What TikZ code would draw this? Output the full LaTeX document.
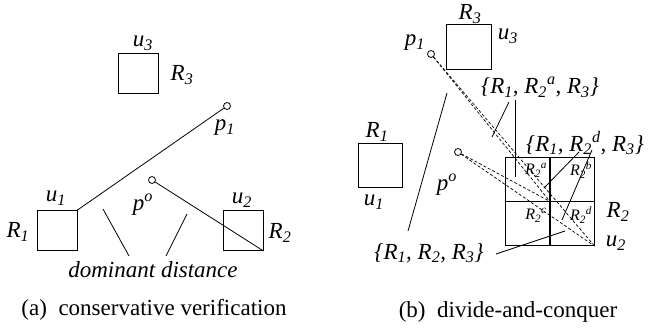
\documentclass[tikz,border=0pt]{standalone}
\usepackage{fontspec}
\setmainfont{Liberation Serif}
\usetikzlibrary{positioning}

\newcommand{\vR}[1]{\textit{R}\textsubscript{\textit{#1}}}
\newcommand{\vu}[1]{\textit{u}\textsubscript{\textit{#1}}}

\begin{document}
\begin{tikzpicture}[
    x=1pt, y=-1pt,
    font=\fontsize{23}{27}\selectfont\itshape,
    box/.style={
        rectangle, draw=black, line width=0.9pt,
        minimum size=40pt, inner sep=0pt
    },
    pt/.style={
        circle, draw=black, line width=0.8pt,
        minimum size=7pt, inner sep=0pt
    },
    lbl/.style={inner sep=1pt},
    sublbl/.style={inner sep=0pt, font=\fontsize{16}{18}\selectfont\itshape},
    line/.style={draw=black, line width=0.8pt},
    dline/.style={draw=black, line width=0.7pt, dash pattern=on 3pt off 2pt}
]
\useasboundingbox (0,0) rectangle (648,328);

% ---------------------------------------------------------------------
% (a) CONSERVATIVE VERIFICATION
% ---------------------------------------------------------------------
\node[box] (aR3) at (138,73) {};
\node[lbl] (au3) at (143,43) {\vu{3}};
\node[lbl] (aR3l) at (182,75) {\vR{3}};

\node[box] (aR1) at (57,230.5) {};
\node[lbl] (au1) at (56,198) {\vu{1}};
\node[lbl] (aR1l) at (18,232) {\vR{1}};

\node[box] (aR2) at (243,230.5) {};
\node[lbl] (au2) at (242,200) {\vu{2}};
\node[lbl] (aR2l) at (280,233) {\vR{2}};

\node[pt] (ap1) at (227,106) {};
\node[lbl] (ap1l) at (225,128) {p\textsubscript{1}};
\node[pt] (apo) at (152,180) {};
\node[lbl] (apol) at (143,205) {p\textsuperscript{o}};

\draw[line] (ap1) -- (aR1.north east);
\draw[line] (apo) -- (aR2.south east);

% dominant distance pointers
\node[lbl] (dd) at (153,270) {dominant distance};
\coordinate (dd1) at (103,209);
\coordinate (dd2) at (187,214);
\draw[line] (dd1) -- (129,256);
\draw[line] (dd2) -- (166,256);

\node[font=\fontsize{23}{27}\selectfont\upshape] (capa) at (154,310) {(a)~ conservative verification};

% ---------------------------------------------------------------------
% (b) DIVIDE-AND-CONQUER
% ---------------------------------------------------------------------
\node[box, minimum size=45pt] (bR3) at (469,46.5) {};
\node[lbl] (bR3l) at (470,14) {\vR{3}};
\node[lbl] (bu3) at (508,36) {\vu{3}};

\node[box, minimum size=44pt] (bR1) at (380,165) {};
\node[lbl] (bR1l) at (377,132) {\vR{1}};
\node[lbl] (bu1) at (374,202) {\vu{1}};

\node[pt] (bp1) at (431,54) {};
\node[lbl] (bp1l) at (415,43) {p\textsubscript{1}};
\node[pt] (bpo) at (458,152) {};
\node[lbl] (bpol) at (447,185) {p\textsuperscript{o}};

% R2 split into four quadrants
\node[box, minimum size=88.5pt] (G) at (550,201.5) {};
\draw[line, line width=1.3pt] (G.north) -- (G.south);
\draw[line, line width=1.3pt] (G.west) -- (G.east);
\node[sublbl] (Ga) at (536,170) {R\textsubscript{2}\textsuperscript{a}};
\node[sublbl] (Gb) at (581,170) {R\textsubscript{2}\textsuperscript{b}};
\node[sublbl] (Gc) at (536,215) {R\textsubscript{2}\textsuperscript{c}};
\node[sublbl] (Gd) at (581,215) {R\textsubscript{2}\textsuperscript{d}};
\node[lbl] (bR2l) at (618,212) {\vR{2}};
\node[lbl] (bu2) at (616,243) {\vu{2}};

% dashed distances
\draw[dline] (bp1) -- (G.center);
\draw[dline] (bp1) -- (G.south east);
\draw[dline] (bpo) -- (G.center);
\draw[dline] (bpo) -- (G.south east);

% set labels and pointers
\node[lbl] (Sa) at (540,87) {\{\vR{1}, \vR{2}\textsuperscript{a}, \vR{3}\}};
\node[lbl] (Sd) at (585,143) {\{\vR{1}, \vR{2}\textsuperscript{d}, \vR{3}\}};
\node[lbl] (S) at (429,253) {\{\vR{1}, \vR{2}, \vR{3}\}};

\coordinate (Sa1) at (515,100);
\coordinate (Sa2) at (509,102);
\draw[line] (Sa1) -- (515,177);
\draw[line] (Sa2) -- (492,137);

\coordinate (Sd1) at (579,152);
\coordinate (Sd2) at (592,150);
\draw[line] (Sd1) -- (544,188);
\draw[line] (Sd2) -- (562,220);

\coordinate (S1) at (408,231);
\coordinate (S2) at (496,254);
\draw[line] (S1) -- (447,93);
\draw[line] (S2) -- (565,231);

\node[font=\fontsize{23}{27}\selectfont\upshape] (capb) at (508,312) {(b)~ divide-and-conquer};

\end{tikzpicture}
\end{document}
